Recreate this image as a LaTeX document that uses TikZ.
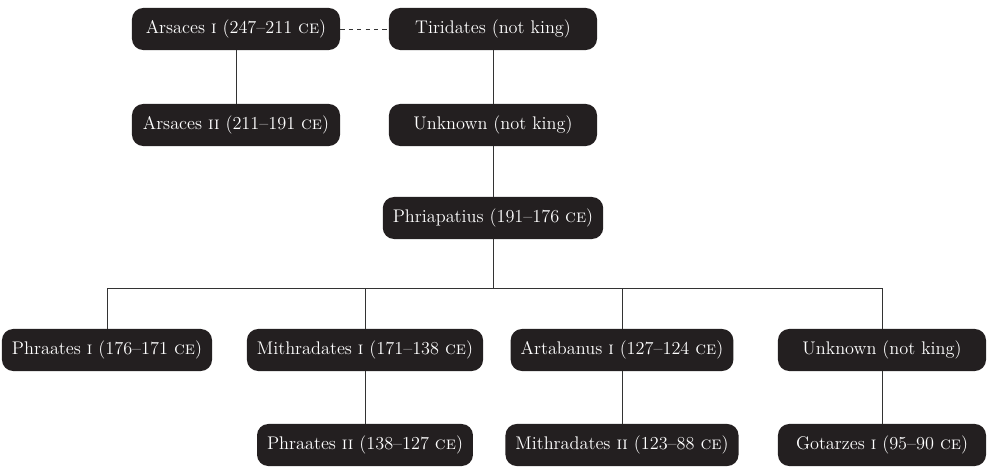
\documentclass[tikz,border=0pt]{standalone}
\usepackage{tikz}
\definecolor{boxfill}{HTML}{231F20}

\begin{document}
\begin{tikzpicture}[x=0.025cm,y=-0.025cm,
    king/.style={fill=boxfill,text=white,rounded corners=8pt,minimum height=1.05cm,minimum width=5.2cm,inner xsep=0.25cm,font=\fontsize{13}{15}\selectfont},
    link/.style={thin,black!80}]
    \useasboundingbox (0,0) rectangle (996,474);

    % oben
    \node[king] (arsI) at (236, 29) {Arsaces \textsc{i} (247--211 \textsc{ce})};
    \node[king] (tiri) at (493, 29) {Tiridates (not king)};
    \node[king] (arsII) at (236, 125) {Arsaces \textsc{ii} (211--191 \textsc{ce})};
    \node[king] (unkA) at (493, 125) {Unknown (not king)};
    \node[king] (phri) at (493, 218) {Phriapatius (191--176 \textsc{ce})};

    % Kinder
    \node[king] (phrI) at (107, 350) {Phraates \textsc{i} (176--171 \textsc{ce})};
    \node[king] (mithI) at (365, 350) {Mithradates \textsc{i} (171--138 \textsc{ce})};
    \node[king] (artI) at (622, 350) {Artabanus \textsc{i} (127--124 \textsc{ce})};
    \node[king] (unkB) at (882, 350) {Unknown (not king)};

    % Enkel
    \node[king] (phrII) at (365, 445) {Phraates \textsc{ii} (138--127 \textsc{ce})};
    \node[king] (mithII) at (622, 445) {Mithradates \textsc{ii} (123--88 \textsc{ce})};
    \node[king] (gotI) at (882, 445) {Gotarzes \textsc{i} (95--90 \textsc{ce})};

    % Linien
    \draw[link,dashed] (arsI) -- (tiri);
    \draw[link] (arsI) -- (arsII);
    \draw[link] (tiri) -- (unkA);
    \draw[link] (unkA) -- (phri);
    \coordinate (bar) at (0, 288);
    \foreach \k in {phrI,mithI,artI,unkB}
        \draw[link] (phri) -- (phri |- bar) -| (\k);
    \draw[link] (mithI) -- (phrII);
    \draw[link] (artI) -- (mithII);
    \draw[link] (unkB) -- (gotI);
\end{tikzpicture}
\end{document}
